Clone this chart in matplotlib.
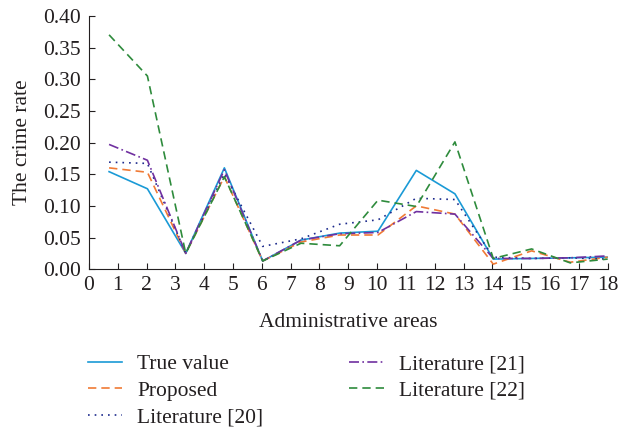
import matplotlib
matplotlib.use('Agg')
import matplotlib.pyplot as plt

plt.rcParams['font.family'] = ['Liberation Serif', 'DejaVu Serif']

# positions of the 14 sample points along the axis
areas = [0.7, 2.03, 3.36, 4.7, 6.03, 7.36, 8.7, 10.03, 11.36, 12.7, 14.03, 15.36, 16.7, 18.0]

true_value = [0.154, 0.127, 0.025, 0.160, 0.013, 0.046, 0.057, 0.060, 0.156, 0.119, 0.016, 0.017, 0.018, 0.019]
proposed = [0.160, 0.153, 0.025, 0.146, 0.013, 0.043, 0.054, 0.054, 0.100, 0.087, 0.008, 0.029, 0.011, 0.019]
lit20 = [0.169, 0.167, 0.025, 0.151, 0.036, 0.048, 0.071, 0.078, 0.112, 0.110, 0.019, 0.017, 0.018, 0.016]
lit21 = [0.197, 0.172, 0.025, 0.157, 0.013, 0.046, 0.056, 0.058, 0.091, 0.087, 0.017, 0.017, 0.018, 0.021]
lit22 = [0.370, 0.305, 0.025, 0.146, 0.013, 0.041, 0.037, 0.109, 0.099, 0.201, 0.017, 0.032, 0.010, 0.016]

fig = plt.figure(figsize=(6.35, 4.28), dpi=100)
ax = fig.add_axes([0.140, 0.371, 0.817, 0.592])

ax.plot(areas, true_value, color='#1a9ad6', lw=1.2, label='True value')
ax.plot(areas, proposed, color='#f07a35', lw=1.2, ls=(0, (5, 3)), label='Proposed')
ax.plot(areas, lit20, color='#1c2a8c', lw=1.2, ls=(0, (1, 3)), label='Literature [20]')
ax.plot(areas, lit21, color='#7030a0', lw=1.2, ls=(0, (6, 2, 1, 2)), label='Literature [21]')
ax.plot(areas, lit22, color='#2e8b3c', lw=1.2, ls=(0, (5, 3)), label='Literature [22]')

ax.set_xlim(0, 18)
ax.set_ylim(0, 0.40)
ax.set_xticks(range(0, 19))
ax.set_yticks([0.0, 0.05, 0.10, 0.15, 0.20, 0.25, 0.30, 0.35, 0.40])
ax.yaxis.set_major_formatter(matplotlib.ticker.FormatStrFormatter('%.2f'))
ax.tick_params(direction='in', length=4, labelsize=15.5, colors='#231f20')
ax.tick_params(axis='y', pad=6)
ax.tick_params(axis='x', pad=5)
ax.spines['top'].set_visible(False)
ax.spines['right'].set_visible(False)
for s in ('left', 'bottom'):
    ax.spines[s].set_color('#231f20')

ax.set_xlabel('Administrative areas', fontsize=15.5, color='#231f20', labelpad=13)
ax.set_ylabel('The crime rate', fontsize=15.5, color='#231f20', labelpad=8)

fig.legend(loc='upper left', bbox_to_anchor=(0.138, 0.172), ncol=2, frameon=False,
           fontsize=15.5, handlelength=1.6, handletextpad=0.7, columnspacing=4.0,
           labelspacing=0.3, borderpad=0, borderaxespad=0, labelcolor='#231f20')

fig.savefig('out.png', dpi=100)
